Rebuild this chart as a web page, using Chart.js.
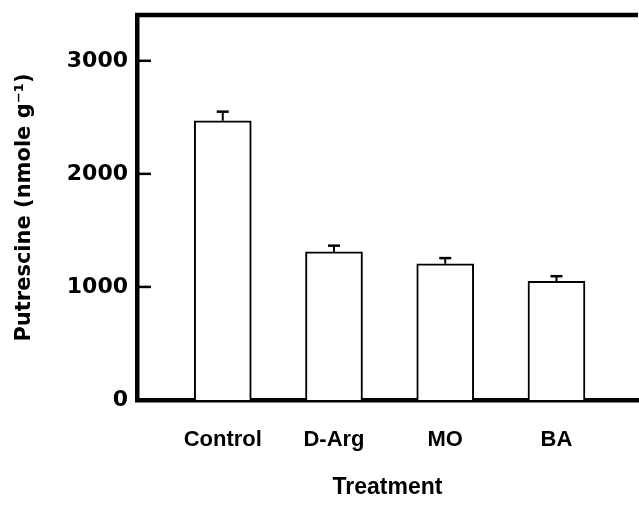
<!DOCTYPE html>
<html>
<head>
<meta charset="utf-8">
<script src="https://cdn.jsdelivr.net/npm/chart.js@4"></script>
<style>
    html, body { margin: 0; padding: 0; background: #fff; }
    #box { width: 639px; height: 506px; }
</style>
</head>
<body>
<div id="box"><canvas id="grafico"></canvas></div>
<script>
// Data
const categories = ['Control', 'D-Arg', 'MO', 'BA'];
const putrescine = [2470, 1310, 1205, 1050];
const errors = [80, 55, 50, 45];
const yTicks = [0, 1000, 2000, 3000];

// error bars + inner ticks + top frame line
const extras = {
    id: 'extras',
    afterDatasetsDraw(chart) {
        const ctx = chart.ctx;
        const y = chart.scales.y;
        const area = chart.chartArea;
        ctx.save();
        ctx.strokeStyle = '#000';
        ctx.lineWidth = 2;
        chart.getDatasetMeta(0).data.forEach((bar, i) => {
            const yTop = y.getPixelForValue(putrescine[i] + errors[i]);
            ctx.beginPath();
            ctx.moveTo(bar.x, bar.y);
            ctx.lineTo(bar.x, yTop);
            ctx.stroke();
            ctx.lineWidth = 2.5;
            ctx.beginPath();
            ctx.moveTo(bar.x - 6, yTop);
            ctx.lineTo(bar.x + 6, yTop);
            ctx.stroke();
            ctx.lineWidth = 2;
        });
        // ticks pointing inward
        ctx.lineWidth = 2.5;
        yTicks.forEach(v => {
            if (v === 0) return;
            const py = y.getPixelForValue(v);
            ctx.beginPath();
            ctx.moveTo(area.left, py);
            ctx.lineTo(area.left + 14, py);
            ctx.stroke();
        });
        // top frame
        ctx.lineWidth = 4.5;
        ctx.beginPath();
        ctx.moveTo(area.left - 2, area.top);
        ctx.lineTo(area.right, area.top);
        ctx.stroke();
        ctx.restore();
    }
};

const ctx = document.getElementById('grafico').getContext('2d');
const myChart = new Chart(ctx, {
    type: 'bar',
    data: {
        datasets: [{
            data: categories.map((c, i) => ({ x: i + 1, y: putrescine[i] })),
            backgroundColor: '#fff',
            borderColor: '#000',
            borderWidth: 2,
            borderSkipped: 'start',
            barThickness: 57
        }]
    },
    options: {
        responsive: true,
        maintainAspectRatio: false,
        animation: false,
        layout: { padding: { left: 0, top: 15, right: 1, bottom: 0 } },
        plugins: { legend: { display: false }, tooltip: { enabled: false } },
        scales: {
            x: {
                type: 'linear',
                offset: false,
                min: 0.229,
                max: 4.733,
                grid: { display: false, offset: false },
                border: { display: true, color: '#000', width: 4.5 },
                afterBuildTicks: (scale) => {
                    scale.ticks = categories.map((c, i) => ({ value: i + 1 }));
                },
                afterFit: (scale) => {
                    scale.height = 106;
                    scale.paddingLeft = 0;
                    scale.paddingRight = 0;
                },
                ticks: {
                    color: '#000',
                    padding: 19,
                    maxRotation: 0,
                    autoSkip: false,
                    font: { family: 'Liberation Sans', size: 22, weight: 'bold' },
                    callback: (v) => categories[v - 1]
                },
                title: {
                    display: true,
                    text: 'Treatment',
                    color: '#000',
                    padding: { top: 0, bottom: 5 },
                    font: { family: 'Liberation Sans', size: 23, weight: 'bold' }
                }
            },
            y: {
                min: 0,
                max: 3405,
                grid: { display: false },
                border: { display: true, color: '#000', width: 4.5 },
                afterBuildTicks: (scale) => {
                    scale.ticks = yTicks.map(v => ({ value: v }));
                },
                afterFit: (scale) => {
                    scale.width = 137;
                    scale.paddingTop = 0;
                    scale.paddingBottom = 0;
                },
                ticks: {
                    color: '#000',
                    padding: 1,
                    font: { family: 'DejaVu Sans', size: 22, weight: 'bold' },
                    callback: (v) => String(v)
                },
                title: {
                    display: true,
                    text: 'Putrescine (nmole g⁻¹)',
                    color: '#000',
                    padding: { top: 12, bottom: 0 },
                    font: { family: 'DejaVu Sans', size: 21, weight: 'bold' }
                }
            }
        }
    },
    plugins: [extras]
});
</script>
</body>
</html>
